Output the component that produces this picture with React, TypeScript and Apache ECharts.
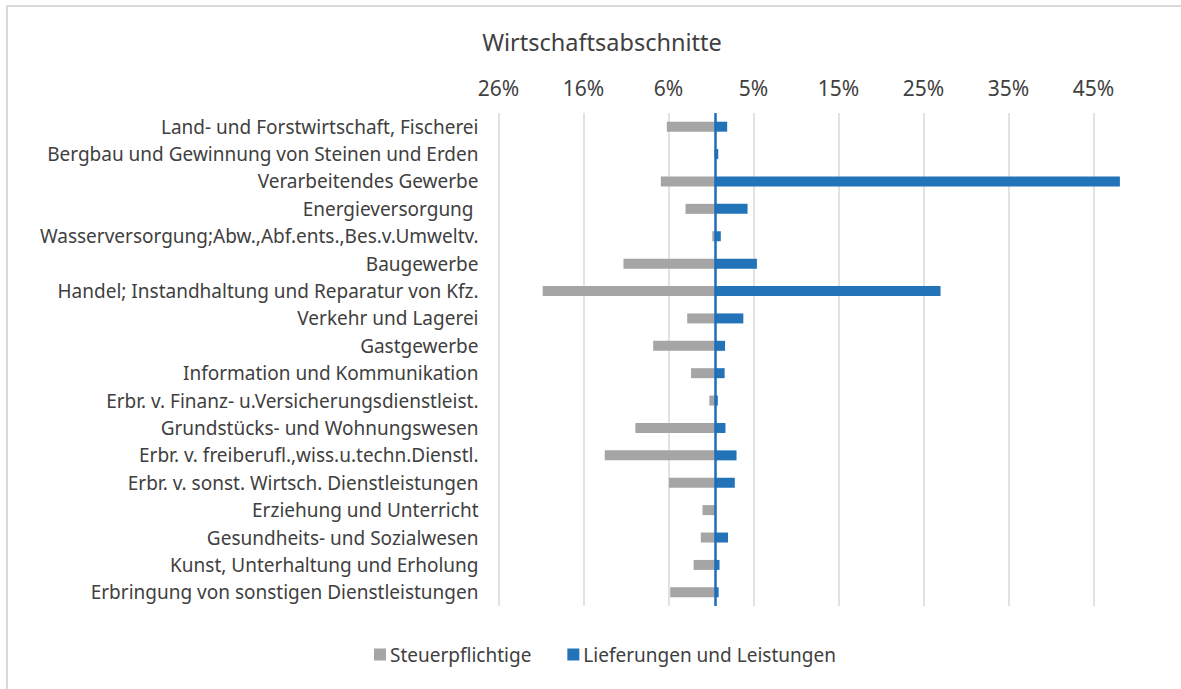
import React, { useEffect, useRef } from "react";
import * as echarts from "echarts";

const categories = [
  "Land- und Forstwirtschaft, Fischerei",
  "Bergbau und Gewinnung von Steinen und Erden",
  "Verarbeitendes Gewerbe",
  "Energieversorgung ",
  "Wasserversorgung;Abw.,Abf.ents.,Bes.v.Umweltv.",
  "Baugewerbe",
  "Handel; Instandhaltung und Reparatur von Kfz.",
  "Verkehr und Lagerei",
  "Gastgewerbe",
  "Information und Kommunikation",
  "Erbr. v. Finanz- u.Versicherungsdienstleist.",
  "Grundstücks- und Wohnungswesen",
  "Erbr. v. freiberufl.,wiss.u.techn.Dienstl.",
  "Erbr. v. sonst. Wirtsch. Dienstleistungen",
  "Erziehung und Unterricht",
  "Gesundheits- und Sozialwesen",
  "Kunst, Unterhaltung und Erholung",
  "Erbringung von sonstigen Dienstleistungen",
];

// Steuerpflichtige (shown to the left, as negative values)
const steuerpflichtige = [
  -5.7, -0.1, -6.4, -3.5, -0.35, -10.8, -20.3, -3.3, -7.3, -2.85, -0.7, -9.4,
  -13.0, -5.45, -1.5, -1.7, -2.55, -5.3,
];

// Lieferungen und Leistungen
const lieferungen = [
  1.4, 0.35, 47.6, 3.8, 0.65, 4.9, 26.5, 3.3, 1.15, 1.1, 0.3, 1.2, 2.5, 2.3,
  0.05, 1.5, 0.5, 0.4,
];

const AXIS_MIN = -25.5;
const AXIS_MAX = 48;
const AXIS_STEP = 10;

const FONT = "Noto Sans";
const TEXT = "#404040";

export default function App() {
  const ref = useRef<HTMLDivElement>(null);

  useEffect(() => {
    if (!ref.current) return;
    const chart = echarts.init(ref.current, null, { renderer: "svg" });
    chart.setOption({
      animation: false,
      backgroundColor: "#ffffff",
      textStyle: { fontFamily: FONT, color: TEXT },
      title: {
        text: "Wirtschaftsabschnitte",
        left: 597,
        textAlign: "center",
        top: 25,
        textStyle: { fontFamily: FONT, fontSize: 23.5, fontWeight: "normal", color: TEXT },
      },
      graphic: [
        {
          type: "rect",
          shape: { x: 7, y: 6, width: 1250, height: 750 },
          style: { fill: "none", stroke: "#D9D9D9", lineWidth: 2 },
          silent: true,
        },
      ],
      legend: {
        bottom: 20,
        left: 369,
        icon: "rect",
        itemWidth: 12,
        itemHeight: 12,
        itemGap: 36,
        textStyle: { fontFamily: FONT, fontSize: 19, color: TEXT, padding: [0, 0, 0, -1] },
        data: ["Steuerpflichtige", "Lieferungen und Leistungen"],
      },
      grid: { left: 498.5, right: 1181 - 1123.3, top: 113, bottom: 689 - 606 },
      xAxis: {
        type: "value",
        position: "top",
        min: AXIS_MIN,
        max: AXIS_MAX,
        interval: AXIS_STEP,
        axisLine: { show: false },
        axisTick: { show: false },
        axisLabel: {
          show: true,
          margin: 15,
          fontFamily: FONT,
          fontSize: 21,
          color: TEXT,
          showMaxLabel: false,
          formatter: (v: number) => {
            const k = (v - AXIS_MIN) / AXIS_STEP;
            if (Math.abs(k - Math.round(k)) > 1e-6) return "";
            return Math.round(Math.abs(v) + 1e-9) + "%";
          },
        },
        splitLine: {
          show: true,
          showMaxLine: false,
          lineStyle: { color: "#D9D9D9", width: 1.5 },
        },
      },
      yAxis: {
        type: "category",
        inverse: true,
        data: categories,
        axisLine: { show: false, onZero: false },
        axisTick: { show: false },
        axisLabel: { margin: 20, fontFamily: FONT, fontSize: 19, color: TEXT },
      },
      series: [
        {
          name: "Steuerpflichtige",
          type: "bar",
          data: steuerpflichtige,
          barWidth: 10,
          barGap: "-100%",
          itemStyle: { color: "#A5A5A5" },
        },
        {
          name: "Lieferungen und Leistungen",
          type: "bar",
          data: lieferungen,
          barWidth: 10,
          barGap: "-100%",
          itemStyle: { color: "#2373B9" },
          markLine: {
            silent: true,
            symbol: "none",
            label: { show: false },
            lineStyle: { color: "#1C6EBA", width: 2.5, type: "solid" },
            data: [{ xAxis: 0 }],
          },
        },
      ],
    });
    return () => chart.dispose();
  }, []);

  return (
    <div
      ref={ref}
      style={{ position: "fixed", left: 0, top: 0, width: 1181, height: 689 }}
    />
  );
}
